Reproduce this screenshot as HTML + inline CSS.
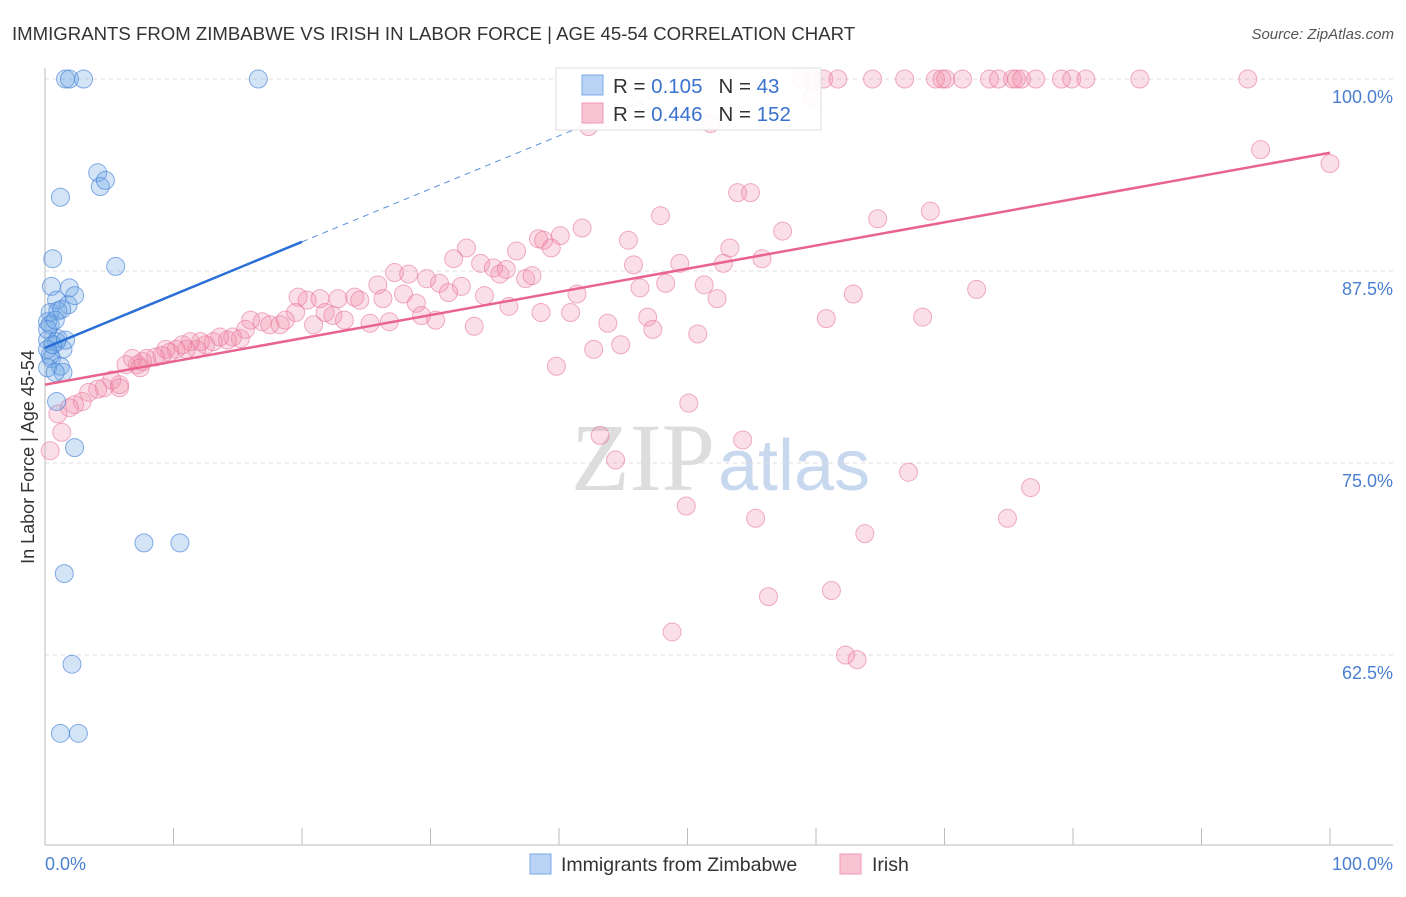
<!DOCTYPE html>
<html><head><meta charset="utf-8"><style>
body{margin:0;background:#fff;}
svg text{font-family:"Liberation Sans",sans-serif;}
</style></head><body>
<svg width="1406" height="892" xmlns="http://www.w3.org/2000/svg">
<text x="12" y="40" font-size="18.6" fill="#333">IMMIGRANTS FROM ZIMBABWE VS IRISH IN LABOR FORCE | AGE 45-54 CORRELATION CHART</text>
<text x="1394" y="39" font-size="15" fill="#555" font-style="italic" text-anchor="end">Source: ZipAtlas.com</text>
<text x="715" y="490" font-size="96" fill="#ddd" text-anchor="end" style="font-family:'Liberation Serif',serif">ZIP</text>
<text x="718" y="490" font-size="72" fill="#c8d8ee">atlas</text>
<g id="grid"></g>
<line x1="45" y1="68" x2="45" y2="845" stroke="#bbb"/>
<line x1="45" y1="845" x2="1393" y2="845" stroke="#bbb"/>
<g id="xt"></g>
<g id="yl"></g>
<text x="45" y="870" font-size="18" fill="#4a7fd0">0.0%</text>
<text x="1393" y="870" font-size="18" fill="#4a7fd0" text-anchor="end">100.0%</text>
<text transform="translate(34,457) rotate(-90)" font-size="18" fill="#333" text-anchor="middle">In Labor Force | Age 45-54</text>
<g id="pink"></g>
<g id="blue"></g>
<g id="lines"></g>
<g>
<rect x="556" y="68" width="265" height="62" fill="#fff" fill-opacity="0.9" stroke="#ddd"/>
<rect x="582" y="75" width="21" height="20" fill="#b9d3f5" stroke="#7aaae6"/>
<rect x="582" y="103" width="21" height="20" fill="#f8c3d3" stroke="#ee9ab5"/>
<text x="613" y="93" font-size="20.5" fill="#333">R = <tspan fill="#3a72d0"> 0.105</tspan><tspan dx="16">N = </tspan><tspan fill="#3a72d0">  43</tspan></text>
<text x="613" y="121" font-size="20.5" fill="#333">R = <tspan fill="#3a72d0">0.446</tspan><tspan dx="16">N = </tspan><tspan fill="#3a72d0">152</tspan></text>
</g>
<g>
<rect x="530" y="854" width="21" height="20" fill="#b9d3f5" stroke="#7aaae6"/>
<text x="561" y="871" font-size="19.5" fill="#333">Immigrants from Zimbabwe</text>
<rect x="840" y="854" width="21" height="20" fill="#f8c3d3" stroke="#ee9ab5"/>
<text x="872" y="871" font-size="19.5" fill="#333">Irish</text>
</g>
</svg>
<script>
const yTicks=[100,87.5,75,62.5];
const yTickLabels=["100.0%","87.5%","75.0%","62.5%"];
const xTicks=[0,10,20,30,40,50,60,70,80,90,100];
const blueX=[1.6,1.9,3.0,16.6,4.1,4.3,4.7,1.2,0.6,5.5,0.5,1.9,0.9,1.8,2.3,0.4,1.0,1.3,0.2,0.4,1.0,0.2,0.9,1.4,0.4,0.5,1.2,0.2,1.4,0.8,0.9,2.3,7.7,10.5,1.5,2.1,1.2,2.6,0.2,0.8,1.6,0.2,0.6];
const blueY=[100,100,100,100,93.9,93.0,93.4,92.3,88.3,87.8,86.5,86.4,85.6,85.3,85.9,84.8,84.9,85.0,84.2,84.0,83.1,83.0,82.9,82.4,82.0,81.8,81.3,81.2,80.9,80.9,79.0,76.0,69.8,69.8,67.8,61.9,57.4,57.4,83.7,84.3,83.0,82.4,82.7];
const pinkX=[58.8,59.7,60.6,61.7,64.4,66.9,69.3,69.8,70.1,71.4,73.5,74.2,75.3,75.6,76.0,77.1,79.1,79.9,81.0,85.2,93.6,59.7,42.3,51.8,94.6,100,53.9,54.9,47.9,64.8,68.9,41.8,57.4,45.4,38.4,38.8,40.1,32.8,36.7,39.4,53.3,31.8,55.8,45.8,49.4,52.8,33.9,34.9,35.4,35.9,27.2,28.3,29.7,37.4,37.9,30.7,25.9,32.4,46.3,48.3,51.3,72.5,62.9,41.4,31.4,34.2,19.7,20.4,21.4,24.1,22.8,24.5,26.3,27.9,28.9,29.3,30.4,36.1,38.6,40.9,46.9,52.3,60.8,68.3,19.5,21.8,22.4,23.3,25.3,26.8,43.8,33.4,47.3,50.8,20.9,16.9,16.0,17.5,18.3,18.7,15.2,15.6,14.6,14.2,13.6,13.1,12.5,12.1,11.8,11.3,11.0,10.7,10.2,9.7,9.4,9.1,8.6,7.9,7.6,7.2,6.8,6.3,7.4,42.7,44.8,39.8,5.8,5.2,4.6,4.1,3.4,5.8,2.9,2.3,1.9,1.0,1.3,0.4,43.2,54.3,50.1,44.4,67.2,76.7,49.9,55.3,74.9,63.8,56.3,61.2,48.8,62.3,63.2];
const pinkY=[100,100,100,100,100,100,100,100,100,100,100,100,100,100,100,100,100,100,100,100,100,98.8,96.9,97.1,95.4,94.5,92.6,92.6,91.1,90.9,91.4,90.3,90.1,89.5,89.6,89.5,89.8,89.0,88.8,89.0,89.0,88.3,88.3,87.9,88.0,88.0,88.0,87.7,87.3,87.6,87.4,87.3,87.0,87.0,87.2,86.7,86.6,86.5,86.4,86.7,86.6,86.3,86.0,86.0,86.1,85.9,85.8,85.6,85.7,85.8,85.7,85.6,85.7,86.0,85.4,84.6,84.3,85.2,84.8,84.8,84.5,85.7,84.4,84.5,84.8,84.8,84.6,84.3,84.1,84.2,84.1,83.9,83.7,83.4,84.0,84.2,84.3,84.0,84.0,84.3,83.1,83.7,83.2,83.0,83.2,82.9,82.7,82.9,82.4,82.9,82.4,82.7,82.4,82.2,82.4,82.0,81.9,81.8,81.6,81.4,81.8,81.4,81.2,82.4,82.7,81.3,80.1,80.4,79.9,79.8,79.6,79.9,79.0,78.8,78.6,78.2,77.0,75.8,76.8,76.5,78.9,75.2,74.4,73.4,72.2,71.4,71.4,70.4,66.3,66.7,64.0,62.5,62.2];
const blueTrend=[82.5,89.4];
const pinkTrend=[80.1,95.2];
const NS="http://www.w3.org/2000/svg";
const sx=v=>45+v*12.85, sy=v=>79+(100-v)*15.36;
function mk(tag,parent,attrs){const e=document.createElementNS(NS,tag);for(const k in attrs)e.setAttribute(k,attrs[k]);document.getElementById(parent).appendChild(e);return e;}
yTicks.forEach((t,i)=>{
 const l=mk('line','grid',{x1:45,x2:1393,y1:sy(t),y2:sy(t),stroke:'#ddd','stroke-dasharray':'4,4'});
 
 
 const tx=mk('text','yl',{x:1393,y:sy(t)+24,'font-size':18,fill:'#4a7fd0','text-anchor':'end'});
 tx.textContent=yTickLabels[i];
 
 
});
xTicks.forEach(t=>{
 const l=mk('line','xt',{x1:sx(t),x2:sx(t),y1:828,y2:845,stroke:'#bbb'});
 
 
});
pinkX.forEach((x,i)=>{
 const c=mk('circle','pink',{cx:sx(x),cy:sy(pinkY[i]),r:9,fill:'rgba(242,140,172,0.28)',stroke:'rgba(232,120,155,0.6)','stroke-width':1});
 
 
});
blueX.forEach((x,i)=>{
 const c=mk('circle','blue',{cx:sx(x),cy:sy(blueY[i]),r:9,fill:'rgba(110,165,230,0.3)',stroke:'rgba(70,130,215,0.65)','stroke-width':1});
 
 
});
const bs=(blueTrend[1]-blueTrend[0])/20, xEnd=(100-blueTrend[0])/bs;
const d=mk('line','lines',{x1:sx(20),y1:sy(blueTrend[1]),x2:sx(xEnd),y2:sy(100),stroke:'#5b8fdc','stroke-width':1,'stroke-dasharray':'6,5'});


const b=mk('line','lines',{x1:sx(0),y1:sy(blueTrend[0]),x2:sx(20),y2:sy(blueTrend[1]),stroke:'#2a6fd6','stroke-width':2.5});


const p=mk('line','lines',{x1:sx(0),y1:sy(pinkTrend[0]),x2:sx(100),y2:sy(pinkTrend[1]),stroke:'#e8648f','stroke-width':2.5});


</script>
</body></html>
